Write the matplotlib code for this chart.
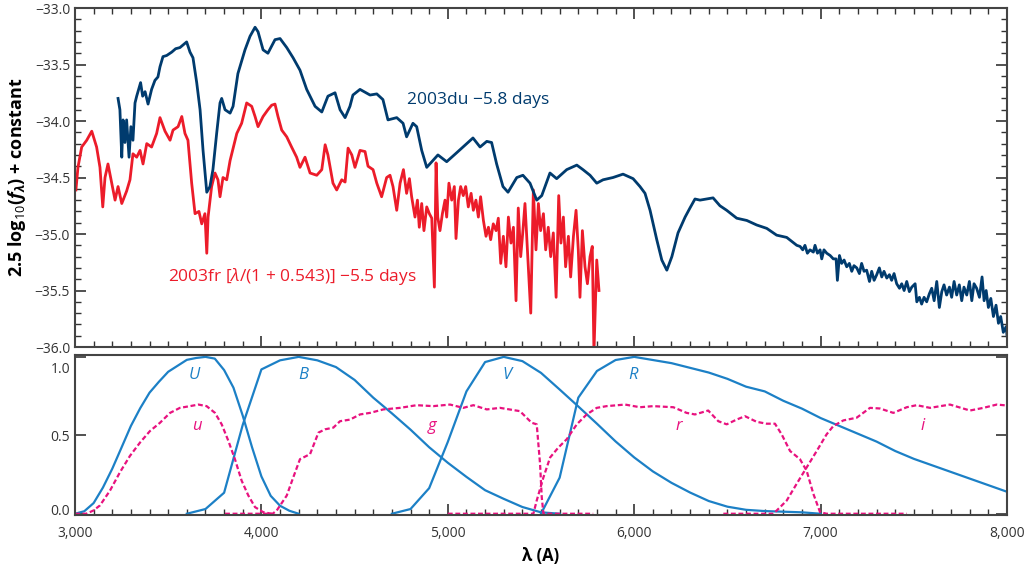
import numpy as np
import matplotlib
matplotlib.use('Agg')
import matplotlib.pyplot as plt
from matplotlib.ticker import MultipleLocator, FuncFormatter
from matplotlib.transforms import ScaledTranslation

plt.rcParams['font.family'] = ['Open Sans', 'DejaVu Sans']
plt.rcParams['mathtext.fontset'] = 'custom'
plt.rcParams['mathtext.rm'] = 'Open Sans'
plt.rcParams['mathtext.it'] = 'Open Sans:italic'
plt.rcParams['mathtext.bf'] = 'Open Sans:bold'
plt.rcParams['mathtext.bfit'] = 'Open Sans:italic:bold'

# SN 2003du spectrum, -5.8 days
du_wave = [3231, 3241, 3251, 3258, 3268, 3277, 3290, 3300, 3311, 3322, 3331, 3338, 3352, 3363,
           3376, 3392, 3411, 3429, 3445, 3456, 3472, 3492, 3519, 3540, 3563, 3599, 3617, 3633,
           3653, 3671, 3687, 3707, 3724, 3740, 3760, 3778, 3787, 3805, 3832, 3848, 3874, 3912,
           3939, 3966, 3982, 4009, 4035, 4073, 4100, 4136, 4170, 4207, 4243, 4288, 4324, 4357,
           4395, 4422, 4449, 4475, 4491, 4529, 4583, 4619, 4652, 4679, 4726, 4760, 4779, 4813,
           4833, 4860, 4887, 4947, 4994, 5048, 5101, 5135, 5173, 5209, 5235, 5262, 5296, 5323,
           5370, 5403, 5441, 5477, 5504, 5548, 5584, 5638, 5692, 5725, 5763, 5799, 5833, 5886,
           5940, 5994, 6031, 6058, 6085, 6121, 6148, 6175, 6202, 6235, 6273, 6299, 6326, 6353,
           6423, 6460, 6496, 6550, 6604, 6657, 6711, 6764, 6818, 6872,
           6890, 6904, 6916, 6929, 6943, 6961, 6970, 6983, 6997, 7006, 7018, 7033, 7051, 7068,
           7083, 7090, 7101, 7113, 7126, 7140, 7154, 7167, 7179, 7194, 7208, 7220, 7233, 7247,
           7262, 7274, 7287, 7301, 7315, 7328, 7340, 7355, 7369, 7381, 7394, 7408, 7423, 7435,
           7448, 7462, 7476, 7489, 7507, 7516, 7530, 7542, 7555, 7569, 7583, 7596, 7609, 7623,
           7637, 7650, 7662, 7676, 7691, 7703, 7716, 7730, 7744, 7757, 7769, 7784, 7798, 7811,
           7823, 7837, 7852, 7866, 7877, 7888, 7900, 7913, 7927, 7941, 7954, 7966, 7980, 7995,
           8000]
du_mag = [-33.80, -33.90, -34.32, -33.99, -34.19, -33.99, -34.32, -34.05, -34.17, -33.84, -33.78,
          -33.74, -33.66, -33.78, -33.74, -33.85, -33.72, -33.64, -33.61, -33.52, -33.43, -33.42,
          -33.39, -33.36, -33.35, -33.30, -33.39, -33.44, -33.66, -33.90, -34.26, -34.63, -34.58,
          -34.43, -34.11, -33.84, -33.80, -33.90, -33.93, -33.87, -33.58, -33.37, -33.25, -33.17,
          -33.21, -33.37, -33.40, -33.28, -33.27, -33.35, -33.44, -33.55, -33.72, -33.87, -33.92,
          -33.78, -33.75, -33.90, -33.97, -33.87, -33.77, -33.72, -33.77, -33.76, -33.81, -33.99,
          -33.97, -34.02, -34.14, -34.02, -34.05, -34.26, -34.41, -34.30, -34.36, -34.28, -34.20,
          -34.15, -34.23, -34.18, -34.19, -34.38, -34.58, -34.63, -34.50, -34.48, -34.55, -34.70,
          -34.66, -34.46, -34.51, -34.43, -34.39, -34.43, -34.48, -34.55, -34.52, -34.50, -34.47,
          -34.51, -34.58, -34.64, -34.79, -35.05, -35.23, -35.32, -35.20, -34.99, -34.85, -34.77,
          -34.69, -34.70, -34.68, -34.75, -34.79, -34.86, -34.88, -34.92, -34.95, -35.01, -35.03,
          -35.10,
          -35.11, -35.14, -35.10, -35.17, -35.14, -35.16, -35.10, -35.17, -35.14, -35.22, -35.14,
          -35.17, -35.19, -35.22, -35.22, -35.41, -35.19, -35.26, -35.23, -35.29, -35.26, -35.33,
          -35.28, -35.30, -35.35, -35.26, -35.33, -35.32, -35.42, -35.33, -35.41, -35.36, -35.30,
          -35.38, -35.33, -35.39, -35.36, -35.41, -35.35, -35.44, -35.48, -35.44, -35.50, -35.42,
          -35.51, -35.47, -35.44, -35.60, -35.56, -35.62, -35.56, -35.60, -35.53, -35.48, -35.59,
          -35.42, -35.65, -35.51, -35.45, -35.54, -35.47, -35.56, -35.42, -35.54, -35.45, -35.59,
          -35.47, -35.54, -35.42, -35.59, -35.44, -35.48, -35.56, -35.38, -35.59, -35.50, -35.65,
          -35.57, -35.73, -35.63, -35.79, -35.73, -35.87, -35.82, -35.90]

# SN 2003fr spectrum, deredshifted, -5.5 days
fr_wave = [3005, 3016, 3036, 3063, 3090, 3116, 3134, 3149, 3161, 3177, 3197, 3215, 3231, 3251,
           3277, 3295, 3311, 3331, 3349, 3365, 3385, 3411, 3438, 3456, 3483, 3510, 3526, 3553,
           3573, 3590, 3606, 3626, 3644, 3665, 3680, 3697, 3707, 3714, 3733, 3751, 3767, 3778,
           3794, 3814, 3832, 3868, 3894, 3921, 3948, 3966, 3982, 4009, 4035, 4055, 4073, 4089,
           4109, 4136, 4162, 4189, 4207, 4234, 4261, 4297, 4324, 4342, 4357, 4384, 4404, 4431,
           4449, 4465, 4485, 4502, 4529, 4556, 4572, 4599, 4619, 4645, 4672, 4690, 4706, 4726,
           4744, 4762, 4779, 4794, 4806, 4824, 4837, 4847, 4860, 4872, 4887, 4901, 4914, 4928,
           4937, 4946, 4958, 4971, 4985, 4994, 5006, 5021, 5035, 5044, 5057, 5069, 5083, 5096,
           5110, 5125, 5137, 5151, 5164, 5176, 5191, 5205, 5218, 5230, 5244, 5259, 5271, 5284,
           5298, 5312, 5325, 5339, 5352, 5366, 5378, 5391, 5402, 5414, 5429, 5445, 5459, 5473,
           5486, 5498, 5513, 5525, 5539, 5552, 5566, 5581, 5595, 5607, 5620, 5632, 5647, 5659,
           5674, 5688, 5700, 5709, 5722, 5736, 5749, 5763, 5775, 5784, 5799, 5811]
fr_mag = [-34.61, -34.41, -34.23, -34.17, -34.09, -34.23, -34.41, -34.76, -34.50, -34.38, -34.55,
          -34.70, -34.58, -34.73, -34.62, -34.52, -34.29, -34.32, -34.26, -34.38, -34.20, -34.23,
          -34.11, -33.97, -34.09, -34.17, -34.08, -34.05, -33.96, -34.11, -34.17, -34.55, -34.82,
          -34.80, -34.91, -34.82, -35.17, -34.85, -34.58, -34.46, -34.52, -34.67, -34.50, -34.52,
          -34.35, -34.11, -34.02, -33.84, -33.87, -33.96, -34.05, -33.96, -33.90, -33.86, -33.85,
          -33.96, -34.08, -34.14, -34.23, -34.32, -34.41, -34.32, -34.46, -34.48, -34.43, -34.21,
          -34.30, -34.55, -34.61, -34.52, -34.54, -34.24, -34.30, -34.41, -34.26, -34.27, -34.40,
          -34.43, -34.55, -34.67, -34.50, -34.48, -34.58, -34.79,
          -34.55, -34.43, -34.64, -34.51, -34.67, -34.85, -34.70, -34.94, -34.73, -34.97, -34.76,
          -34.82, -34.86, -35.47, -34.37, -34.85, -34.97, -34.82, -34.70, -34.85, -34.55, -34.70,
          -34.58, -35.04, -34.70, -34.58, -34.66, -34.58, -34.76, -34.64, -34.79, -34.70, -34.85,
          -34.67, -34.88, -35.02, -34.94, -35.05, -34.91, -34.97, -34.86, -35.26, -35.02, -35.29,
          -34.85, -35.08, -34.94, -35.59, -34.77, -35.20, -34.99, -34.73, -35.20, -35.70, -34.61,
          -35.14, -34.73, -34.97, -34.82, -35.14, -34.94, -35.20, -34.99, -35.56, -34.66, -35.08,
          -34.85, -35.29, -35.02, -35.38, -35.02, -34.79, -35.14, -35.56, -34.97, -35.29, -35.44,
          -35.20, -35.11, -36.05, -35.23, -35.50]

# Bessell UBVR passbands
U_wave = [3000, 3050, 3100, 3150, 3200, 3250, 3300, 3350, 3400, 3450, 3500, 3550, 3600, 3650,
          3700, 3750, 3800, 3850, 3900, 3950, 4000, 4050, 4100, 4150, 4200]
U_tr = [0.0, 0.016, 0.068, 0.167, 0.287, 0.423, 0.560, 0.673, 0.772, 0.841, 0.905, 0.943, 0.981,
        0.993, 1.0, 0.989, 0.916, 0.804, 0.625, 0.423, 0.238, 0.114, 0.051, 0.019, 0.0]
B_wave = [3600, 3700, 3800, 3900, 4000, 4100, 4200, 4300, 4400, 4500, 4600, 4700, 4800, 4900,
          5000, 5100, 5200, 5300, 5400, 5500, 5600]
B_tr = [0.0, 0.030, 0.134, 0.567, 0.920, 0.978, 1.0, 0.978, 0.935, 0.853, 0.740, 0.640, 0.536,
        0.424, 0.325, 0.235, 0.150, 0.095, 0.043, 0.009, 0.0]
V_wave = [4700, 4800, 4900, 5000, 5100, 5200, 5300, 5400, 5500, 5600, 5700, 5800, 5900, 6000,
          6100, 6200, 6300, 6400, 6500, 6600, 6700, 6800, 6900, 7000]
V_tr = [0.0, 0.030, 0.163, 0.458, 0.780, 0.967, 1.0, 0.973, 0.898, 0.792, 0.684, 0.574, 0.461,
        0.359, 0.270, 0.197, 0.135, 0.081, 0.045, 0.025, 0.017, 0.013, 0.009, 0.0]
R_wave = [5500, 5600, 5700, 5800, 5900, 6000, 6100, 6200, 6300, 6400, 6500, 6600, 6700, 6800,
          6900, 7000, 7100, 7200, 7300, 7400, 7500, 8000]
R_tr = [0.0, 0.23, 0.74, 0.91, 0.98, 1.0, 0.98, 0.96, 0.93, 0.90, 0.86, 0.81, 0.78, 0.72, 0.67,
        0.61, 0.56, 0.51, 0.46, 0.40, 0.35, 0.14]

# SDSS ugri passbands
u_wave = [3000, 3060, 3098, 3134, 3188, 3241, 3295, 3349, 3402, 3456, 3510, 3563, 3617, 3662,
          3706, 3751, 3787, 3823, 3858, 3894, 3930, 3966, 4010, 4055]
u_tr = [0.0, 0.0, 0.02, 0.053, 0.148, 0.264, 0.369, 0.454, 0.527, 0.58, 0.643, 0.675, 0.686,
        0.696, 0.686, 0.643, 0.57, 0.464, 0.348, 0.211, 0.116, 0.042, 0.01, 0.0]
g_wave = [3805, 4060, 4082, 4136, 4171, 4207, 4261, 4306, 4341, 4386, 4422, 4475, 4529, 4583,
          4654, 4744, 4833, 4922, 5012, 5083, 5137, 5209, 5280, 5387, 5450, 5477, 5495, 5504,
          5513, 5780]
g_tr = [0.0, 0.0, 0.02, 0.116, 0.232, 0.348, 0.38, 0.517, 0.538, 0.549, 0.59, 0.60, 0.633, 0.643,
        0.665, 0.675, 0.692, 0.686, 0.696, 0.675, 0.692, 0.665, 0.675, 0.654, 0.58, 0.57, 0.316,
        0.105, 0.0, 0.0]
r_wave = [5000, 5459, 5477, 5513, 5549, 5593, 5638, 5692, 5745, 5799, 5852, 5951, 6031, 6102,
          6210, 6281, 6326, 6397, 6451, 6496, 6549, 6594, 6657, 6710, 6755, 6791, 6836, 6889,
          6925, 6961, 6997, 7032, 7462]
r_tr = [0.0, 0.0, 0.084, 0.232, 0.359, 0.422, 0.475, 0.57, 0.633, 0.675, 0.686, 0.696, 0.679,
        0.686, 0.679, 0.643, 0.633, 0.658, 0.59, 0.57, 0.60, 0.622, 0.586, 0.574, 0.574, 0.506,
        0.40, 0.348, 0.274, 0.127, 0.01, 0.0, 0.0]
i_wave = [6478, 6746, 6764, 6818, 6871, 6925, 6979, 7032, 7068, 7122, 7193, 7265, 7318, 7390,
          7462, 7515, 7587, 7694, 7801, 7873, 7945, 8000]
i_tr = [0.0, 0.0, 0.02, 0.084, 0.19, 0.295, 0.40, 0.506, 0.559, 0.595, 0.612, 0.675, 0.671,
        0.643, 0.679, 0.692, 0.675, 0.696, 0.658, 0.675, 0.696, 0.69]

filter_names = ['U', 'B', 'V', 'R', 'u', 'g', 'r', 'i']
filter_label_x = [3640, 4225, 5320, 5995, 3655, 4915, 6240, 7550]
filter_label_y = [0.885, 0.885, 0.885, 0.885, 0.56, 0.56, 0.56, 0.56]

c_du = '#003b6e'
c_fr = '#ec1c2a'
c_bess = '#1c80c6'
c_sdss = '#e8127f'
c_tick = '#333333'

fig = plt.figure(figsize=(10.3, 5.7), dpi=100)
ax1 = fig.add_axes([0.0728, 0.3912, 0.9049, 0.5947])
ax2 = fig.add_axes([0.0728, 0.0965, 0.9049, 0.2807])

### top panel: spectra ###
ax1.plot(fr_wave, fr_mag, color=c_fr, lw=2.0)
ax1.plot(du_wave, du_mag, color=c_du, lw=2.0)
ax1.text(4779, -33.81, '2003du \u22125.8 days', color=c_du, fontsize=12.5, va='center', ha='left')
ax1.text(3499, -35.38, '2003fr [$\\lambda$/(1 + 0.543)] \u22125.5 days', color=c_fr,
         fontsize=12.5, va='center', ha='left')
ax1.set_xlim(3000, 8000)
ax1.set_ylim(-36, -33)
ax1.xaxis.set_major_locator(MultipleLocator(1000))
ax1.xaxis.set_minor_locator(MultipleLocator(100))
ax1.yaxis.set_major_locator(MultipleLocator(0.5))
ax1.yaxis.set_minor_locator(MultipleLocator(0.1))
ax1.yaxis.set_major_formatter(FuncFormatter(lambda v, p: ('%.1f' % v).replace('-', '\u2212')))
ax1.tick_params(which='both', direction='in', top=True, right=True, labelbottom=False,
                colors=c_tick, labelsize=10)
ax1.tick_params(which='major', length=8, width=1.2)
ax1.tick_params(which='minor', length=4.5, width=1.0)
ax1.set_ylabel('2.5 log$_{10}$($\\mathbfit{f}_{\\mathbfit{\\lambda}}$) + constant',
               fontsize=13, fontweight='bold', labelpad=5)

### bottom panel: passbands ###
for w, tr in [(U_wave, U_tr), (B_wave, B_tr), (V_wave, V_tr), (R_wave, R_tr)]:
    ax2.plot(w, tr, color=c_bess, lw=1.6)
for w, tr in [(u_wave, u_tr), (g_wave, g_tr), (r_wave, r_tr), (i_wave, i_tr)]:
    ax2.plot(w, tr, color=c_sdss, lw=1.6, dashes=(2.2, 1.2))
for k in range(len(filter_names)):
    col = c_bess if k < 4 else c_sdss
    ax2.text(filter_label_x[k], filter_label_y[k], filter_names[k], color=col, fontsize=12,
             fontstyle='italic', ha='center', va='center')
ax2.set_xlim(3000, 8000)
ax2.set_ylim(-0.008, 1.012)
ax2.xaxis.set_major_locator(MultipleLocator(1000))
ax2.xaxis.set_minor_locator(MultipleLocator(100))
ax2.xaxis.set_major_formatter(FuncFormatter(lambda v, p: '{:,.0f}'.format(v)))
ax2.set_yticks([0, 0.5, 1.0])
ax2.set_yticklabels(['0.0', '0.5', '1.0'])
ax2.tick_params(which='both', direction='in', top=False, right=True, colors=c_tick, labelsize=10)
ax2.tick_params(which='major', length=8, width=1.2)
ax2.tick_params(which='minor', length=4.5, width=1.0)
ax2.tick_params(axis='x', pad=8)
ax2.set_xlabel('\u03bb (A)', fontsize=12, fontweight='bold', labelpad=4)

# end labels sit inside the panel
labs = ax2.get_yticklabels()
labs[0].set_transform(labs[0].get_transform() + ScaledTranslation(0, 0.04, fig.dpi_scale_trans))
labs[2].set_transform(labs[2].get_transform() + ScaledTranslation(0, -0.11, fig.dpi_scale_trans))

for ax in [ax1, ax2]:
    for s in ax.spines.values():
        s.set_color('#444444')
        s.set_linewidth(1.5)

fig.savefig('out.png', dpi=100)
